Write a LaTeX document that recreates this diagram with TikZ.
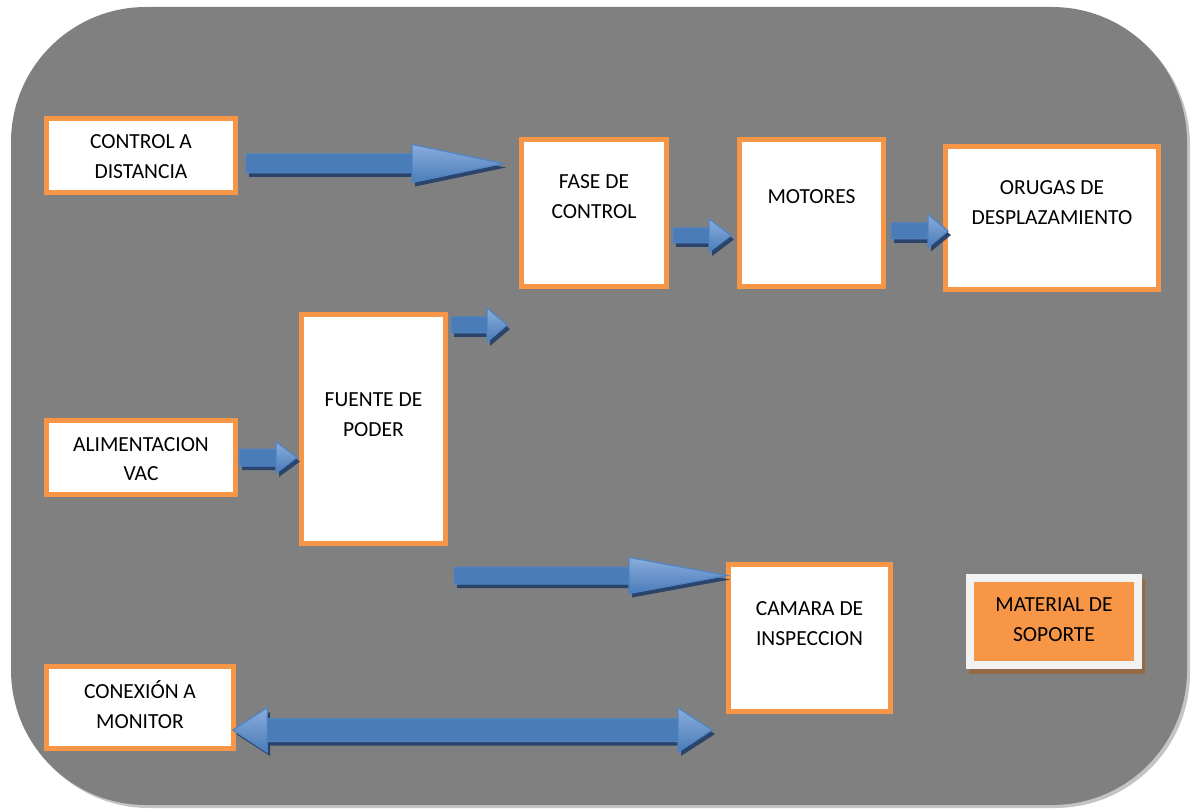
\documentclass[tikz,border=0pt]{standalone}
\usepackage{fontspec}
\setmainfont{Carlito}
\definecolor{bggray}{HTML}{808080}
\definecolor{bgshadow}{HTML}{C4C4C4}
\definecolor{boxorange}{HTML}{F79646}
\definecolor{framewhite}{HTML}{F2F2F2}
\definecolor{matshadow}{HTML}{946A45}
\definecolor{arrowdark}{HTML}{4A7CB8}
\definecolor{arrowmid}{HTML}{5A8BCB}
\definecolor{arrowlight}{HTML}{8AADDC}
\definecolor{arrowline}{HTML}{4F84C4}
\definecolor{ashadowcol}{HTML}{2B446B}
\newcommand\tx[2]{\raisebox{#1}[\height][\depth]{\begin{tabular}{@{}c@{}}#2\end{tabular}}}
% #1 start, #2 tip, #3 half shaft width, #4 half head width, #5 head length
\newcommand\blockarrow[5]{%
  \fill[ashadow] ([shift={(3,4-#3)}]#1) -- ([shift={(3-#5,4-#3)}]#2) -- ([shift={(3-#5,4-#4)}]#2) -- ([shift={(3,4)}]#2) -- ([shift={(3-#5,4+#4)}]#2) -- ([shift={(3-#5,4+#3)}]#2) -- ([shift={(3,4+#3)}]#1) -- cycle;
  \path[abody] ([shift={(0,-#3)}]#1) -- ([shift={(-#5,-#3)}]#2) -- ([shift={(-#5,-#4)}]#2) -- (#2) -- ([shift={(-#5,#4)}]#2) -- ([shift={(-#5,#3)}]#2) -- ([shift={(0,#3)}]#1) -- cycle;
  \path[ahead] ([shift={(-#5,-#4)}]#2) -- (#2) -- ([shift={(-#5,#4)}]#2) -- cycle;
}
% #1 left tip, #2 right tip, #3 half shaft, #4 half head, #5 head length
\newcommand\doublearrow[5]{%
  \fill[ashadow] ([shift={(3,4)}]#1) -- ([shift={(3+#5,4-#4)}]#1) -- ([shift={(3+#5,4-#3)}]#1) -- ([shift={(3-#5,4-#3)}]#2) -- ([shift={(3-#5,4-#4)}]#2) -- ([shift={(3,4)}]#2) -- ([shift={(3-#5,4+#4)}]#2) -- ([shift={(3-#5,4+#3)}]#2) -- ([shift={(3+#5,4+#3)}]#1) -- ([shift={(3+#5,4+#4)}]#1) -- cycle;
  \path[abody] (#1) -- ([shift={(#5,-#4)}]#1) -- ([shift={(#5,-#3)}]#1) -- ([shift={(-#5,-#3)}]#2) -- ([shift={(-#5,-#4)}]#2) -- (#2) -- ([shift={(-#5,#4)}]#2) -- ([shift={(-#5,#3)}]#2) -- ([shift={(#5,#3)}]#1) -- ([shift={(#5,#4)}]#1) -- cycle;
  \path[ahead] ([shift={(-#5,-#4)}]#2) -- (#2) -- ([shift={(-#5,#4)}]#2) -- cycle;
  \path[ahead] ([shift={(#5,-#4)}]#1) -- (#1) -- ([shift={(#5,#4)}]#1) -- cycle;
}
\begin{document}
\begin{tikzpicture}[x=1pt,y=-1pt,
  box/.style={draw=boxorange, line width=5pt, fill=white, inner sep=0pt,
    font=\fontsize{21.5}{30}\selectfont, text=black},
  matbox/.style={draw=framewhite, line width=8pt, fill=boxorange, inner sep=0pt,
    font=\fontsize{21.5}{30}\selectfont, text=black},
  ashadow/.style={fill=ashadowcol},
  abody/.style={draw=arrowline, line width=1pt, top color=arrowdark, middle color=arrowmid, bottom color=arrowdark},
  ahead/.style={draw=arrowline, line width=1pt, top color=arrowlight, bottom color=arrowdark}]
\useasboundingbox (0,0) rectangle (1192,810);
\fill[white] (0,0) rectangle (1192,810);
\fill[bgshadow, rounded corners=135pt] (14,10) rectangle (1190,808);
\fill[bggray, rounded corners=135pt] (11,7) rectangle (1187,805);

% boxes
\node[box, minimum width=189, minimum height=74] (ctrl) at (141,155.5) {\tx{-2pt}{CONTROL A\\DISTANCIA}};
\node[box, minimum width=145, minimum height=147] (fase) at (594,213) {\tx{15pt}{FASE DE\\CONTROL}};
\node[box, minimum width=144, minimum height=147] (mot) at (811.5,213) {\tx{15pt}{MOTORES}};
\node[box, minimum width=213, minimum height=143] (oru) at (1052,218) {\tx{14.5pt}{ORUGAS DE\\DESPLAZAMIENTO}};
\node[box, minimum width=144, minimum height=229] (fue) at (373.5,429) {\tx{13.5pt}{FUENTE DE\\PODER}};
\node[box, minimum width=189, minimum height=74] (ali) at (141,457.5) {\tx{-2.5pt}{ALIMENTACION\\VAC}};
\node[box, minimum width=162, minimum height=147] (cam) at (809.5,638) {\tx{14pt}{CAMARA DE\\INSPECCION}};
\node[box, minimum width=187, minimum height=82] (con) at (140,707.5) {\tx{0pt}{CONEXIÓN A\\MONITOR}};
\fill[matshadow] (969,579) rectangle (1145,674);
\node[matbox, minimum width=168, minimum height=87] (mat) at (1054,621.5) {\tx{1pt}{MATERIAL DE\\SOPORTE}};

% arrow end points
\coordinate (a1s) at ([shift={(8,8)}]ctrl.east);
\coordinate (a1t) at ([shift={(-16,-49.5)}]fase.west);
\coordinate (a2s) at ([shift={(4,22.5)}]fase.east);
\coordinate (a2t) at ([shift={(-6,22.5)}]mot.west);
\coordinate (a3s) at ([shift={(5,18)}]mot.east);
\coordinate (a3t) at ([shift={(5,13)}]oru.west);
\coordinate (a4s) at ([shift={(3,-104)}]fue.east);
\coordinate (a4t) at ([shift={(-12,36)}]fase.south west);
\coordinate (a5s) at ([shift={(1,0)}]ali.east);
\coordinate (a5t) at ([shift={(-2,28.5)}]fue.west);
\coordinate (a6s) at ([shift={(6,29.5)}]fue.south east);
\coordinate (a6t) at ([shift={(1,-62.5)}]cam.west);
\coordinate (a7s) at ([shift={(-3,22.5)}]con.east);
\coordinate (a7t) at ([shift={(-14,16)}]cam.south west);

\blockarrow{a1s}{a1t}{9.5}{19}{91}
\blockarrow{a2s}{a2t}{7.5}{16.5}{22}
\blockarrow{a3s}{a3t}{8}{16.5}{20}
\blockarrow{a4s}{a4t}{8}{17}{20}
\blockarrow{a5s}{a5t}{8.5}{15.5}{21}
\blockarrow{a6s}{a6t}{8.5}{18}{98}
\doublearrow{a7s}{a7t}{11.5}{22}{34}
\end{tikzpicture}
\end{document}
